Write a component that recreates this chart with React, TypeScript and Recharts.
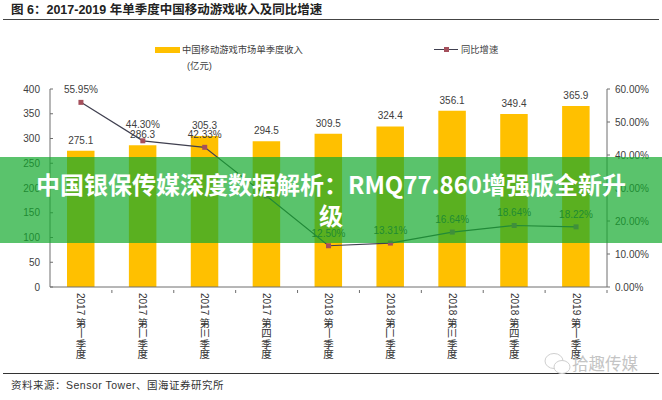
import React from 'react';
import { ComposedChart, Bar, Line, XAxis, YAxis, LabelList } from 'recharts';

const quarters = [
  '2017 第一季度', '2017 第二季度', '2017 第三季度', '2017 第四季度',
  '2018 第一季度', '2018 第二季度', '2018 第三季度', '2018 第四季度', '2019 第一季度',
];
const revenue = [275.1, 286.3, 305.3, 294.5, 309.5, 324.4, 356.1, 349.4, 365.9];
const growth = [55.95, 44.3, 42.33, null, 12.5, 13.31, 16.64, 18.64, 18.22];
const growthDrawn = [55.95, 44.3, 42.33, 27.6, 12.5, 13.31, 16.64, 18.64, 18.22];
const revenueTicks = [0, 50, 100, 150, 200, 250, 300, 350, 400];
const growthTicks = [0, 10, 20, 30, 40, 50, 60];

const titleText = '图 6：2017-2019 年单季度中国移动游戏收入及同比增速';
const sourceText = '资料来源：Sensor Tower、国海证券研究所';
const bannerText = '中国银保传媒深度数据解析：RMQ77.860增强版全新升级';
const barLegend = '中国移动游戏市场单季度收入';
const barLegendUnit = '(亿元)';
const lineLegend = '同比增速';
const watermark = '拾趣传媒';

const data = quarters.map((q, i) => ({
  name: q,
  revenue: revenue[i],
  growth: growthDrawn[i],
  growthLabel: growth[i],
}));

const FONT = '"Liberation Sans", "Noto Sans CJK SC", sans-serif';
const AXIS = '#6e6e6e';
const TEXT = '#404040';
const BAND = 557 / quarters.length;

// year runs sideways; in the source the numeral strokes lie sideways too, the rest stand upright
const QuarterTick = ({ x, y, payload }: any) => {
  const [year, quarter] = String(payload.value).split(' ');
  return (
    <g fontFamily={FONT} fill="#333">
      <line x1={x + BAND / 2} x2={x + BAND / 2} y1={y - 3} y2={y} stroke={AXIS} />
      <text x={x} y={y} transform={`rotate(90 ${x} ${y})`} dy={3.5} fontSize={10}>
        {year}
      </text>
      {quarter.split('').map((ch, i) => {
        const cy = y + 29.5 + i * 10.5;
        const sideways = '一二三'.includes(ch);
        return (
          <text
            key={i}
            x={x}
            y={cy}
            textAnchor="middle"
            dominantBaseline="central"
            fontSize={10.5}
            transform={sideways ? `rotate(90 ${x} ${cy})` : undefined}
          >
            {ch}
          </text>
        );
      })}
    </g>
  );
};

const SquareDot = ({ cx, cy }: any) => (
  <rect x={cx - 2.5} y={cy - 2.5} width={5} height={5} fill="#a5505c" />
);

// the 44.30% label sits higher than the others in the source
const GrowthLabel = ({ x, y, width, value, index }: any) =>
  value == null ? null : (
    <text
      x={x + (width || 0) / 2}
      y={y - (index === 1 ? 13 : 9)}
      textAnchor="middle"
      fontSize={10}
      fill={TEXT}
      fontFamily={FONT}
    >
      {`${Number(value).toFixed(2)}%`}
    </text>
  );

const Abs = ({ style, children }: any) => (
  <div style={{ position: 'absolute', whiteSpace: 'nowrap', fontFamily: FONT, ...style }}>{children}</div>
);

export default function App() {
  return (
    <div style={{ position: 'fixed', left: 0, top: 0, width: 662, height: 400, background: '#fff', overflow: 'hidden' }}>
      <Abs style={{ left: 11, top: 2, fontSize: 12.5, fontWeight: 700, color: '#222', lineHeight: '17px' }}>
        {titleText}
      </Abs>
      <div style={{ position: 'absolute', left: 3, width: 656, top: 19, height: 1, background: '#444' }} />

      <div style={{ position: 'absolute', left: 155, top: 47, width: 25, height: 6, background: '#ffc000' }} />
      <Abs style={{ left: 182, top: 43, fontSize: 9.3, color: TEXT, lineHeight: '14px' }}>{barLegend}</Abs>
      <Abs style={{ left: 187, top: 59, fontSize: 9.3, color: TEXT, lineHeight: '14px' }}>{barLegendUnit}</Abs>
      <div style={{ position: 'absolute', left: 434, top: 49, width: 24, height: 1, background: '#404050' }} />
      <div style={{ position: 'absolute', left: 444, top: 47, width: 5, height: 5, background: '#a5505c' }} />
      <Abs style={{ left: 461, top: 43, fontSize: 9.3, color: TEXT, lineHeight: '14px' }}>{lineLegend}</Abs>

      <div style={{ position: 'absolute', left: 0, top: 0 }}>
        <ComposedChart
          width={662}
          height={400}
          data={data}
          margin={{ top: 89, right: 0, bottom: 33, left: 10 }}
          barCategoryGap="0%"
        >
          <XAxis
            dataKey="name"
            interval={0}
            height={80}
            tick={<QuarterTick />}
            tickLine={false}
            tickMargin={0}
            stroke={AXIS}
          />
          <YAxis
            yAxisId="left"
            width={40}
            domain={[0, 400]}
            ticks={revenueTicks}
            interval={0}
            tickSize={-3}
            tickMargin={13}
            stroke={AXIS}
            tick={{ fontSize: 10, fill: TEXT, fontFamily: FONT }}
          />
          <YAxis
            yAxisId="right"
            orientation="right"
            width={55}
            domain={[0, 60]}
            ticks={growthTicks}
            interval={0}
            tickSize={3}
            tickMargin={5}
            stroke={AXIS}
            tickFormatter={(v: number) => `${v.toFixed(2)}%`}
            tick={{ fontSize: 10, fill: TEXT, fontFamily: FONT }}
          />
          <Bar yAxisId="left" dataKey="revenue" fill="#ffc000" barSize={27.5} isAnimationActive={false}>
            <LabelList dataKey="revenue" position="top" offset={7} fontSize={10} fill={TEXT} fontFamily={FONT} formatter={(v: number) => v.toFixed(1)} />
          </Bar>
          <Line
            yAxisId="right"
            dataKey="growth"
            stroke="#404050"
            strokeWidth={1.2}
            dot={<SquareDot />}
            isAnimationActive={false}
          >
            <LabelList dataKey="growthLabel" content={<GrowthLabel />} />
          </Line>
        </ComposedChart>
      </div>

      <div style={{ position: 'absolute', left: 3, width: 656, top: 373, height: 1, background: '#333' }} />
      <Abs style={{ left: 11, top: 378, fontSize: 10.5, color: '#333', letterSpacing: 0.5, lineHeight: '14px' }}>{sourceText}</Abs>
      <svg style={{ position: 'absolute', left: 544, top: 352, overflow: 'visible' }} width={28} height={24}>
        <ellipse cx={10} cy={9} rx={9} ry={7.5} fill="none" stroke="#cfcfcf" />
        <ellipse cx={18} cy={15} rx={8} ry={6.5} fill="#fff" stroke="#cfcfcf" />
      </svg>
      <Abs style={{ left: 572, top: 353, fontSize: 16.5, color: '#c4c4c4', lineHeight: '20px', fontFamily: '"Noto Sans CJK SC"' }}>{watermark}</Abs>

      <div
        style={{
          position: 'absolute',
          left: 0,
          top: 157,
          width: 662,
          height: 86,
          background: 'rgba(20,170,45,0.7)',
          color: '#fff',
          fontFamily: '"Noto Sans CJK SC", sans-serif',
          fontWeight: 700,
          fontSize: 24,
          lineHeight: '31px',
          textAlign: 'center',
          padding: '11px 30px',
          boxSizing: 'border-box',
        }}
      >
        {bannerText}
      </div>
    </div>
  );
}
